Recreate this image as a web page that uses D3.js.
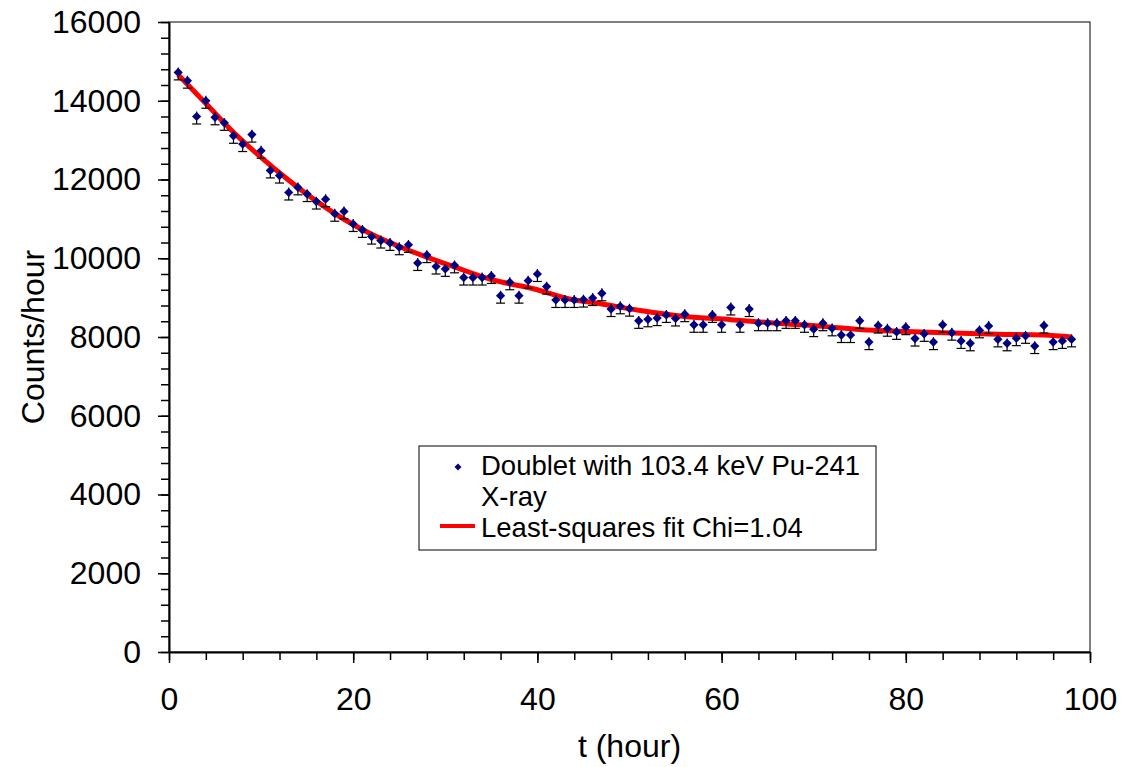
<!DOCTYPE html>
<html>
<head>
<meta charset="utf-8">
<script src="https://cdn.jsdelivr.net/npm/d3@7"></script>
<style>
  body { margin: 0; background: #fff; }
  svg { font-family: "Liberation Sans", Arial, sans-serif; }
</style>
</head>
<body>
<div id="vis"></div>
<script>
// data
const HOURS = d3.range(1, 99);
const COUNTS = [
  14720, 14510, 13600, 14000, 13580, 13440, 13110, 12900, 13140, 12730,
  12230, 12100, 11670, 11800, 11630, 11440, 11500, 11130, 11190, 10870,
  10720, 10550, 10450, 10390, 10280, 10340, 9880, 10080, 9790, 9730,
  9820, 9510, 9510, 9510, 9550, 9050, 9390, 9050, 9430, 9600,
  9280, 8940, 8940, 8940, 8950, 8990, 9110, 8710, 8780, 8720,
  8410, 8450, 8480, 8560, 8470, 8580, 8310, 8310, 8560, 8310,
  8750, 8310, 8710, 8350, 8350, 8350, 8410, 8410, 8310, 8200,
  8350, 8220, 8050, 8050, 8410, 7870, 8290, 8210, 8130, 8250,
  7960, 8080, 7870, 8310, 8110, 7900, 7840, 8170, 8280, 7940,
  7840, 7970, 8030, 7770, 8290, 7870, 7900, 7940
];
const FIT_T = [1, 4, 7, 10, 13, 16, 19, 22, 25, 28, 31, 35, 40, 43, 47, 51, 56, 61, 66, 71, 75, 80, 85, 90, 95, 98];
const FIT_Y = [14660, 13930, 13200, 12560, 11980, 11450, 10990, 10610, 10300, 10030, 9780, 9460, 9200, 8990, 8840, 8680, 8520, 8440, 8350, 8270, 8190, 8140, 8100, 8070, 8050, 8000];
const ERR_DOWN = 190;
const ERR_UP = 125;

const X_TICKS = [0, 20, 40, 60, 80, 100];
const Y_TICKS = [0, 2000, 4000, 6000, 8000, 10000, 12000, 14000, 16000];
const LEGEND_ITEMS = ['Doublet with 103.4 keV Pu-241', 'X-ray', 'Least-squares fit Chi=1.04'];

// frame
const FRAME_WIDTH = 1124;
const FRAME_HEIGHT = 767;
const MARGINS = {left: 169, right: 34, top: 22, bottom: 115};
const VIS_WIDTH = FRAME_WIDTH - MARGINS.left - MARGINS.right;
const VIS_HEIGHT = FRAME_HEIGHT - MARGINS.top - MARGINS.bottom;
const FONT = '"Liberation Sans", Arial, sans-serif';

const FRAME = d3.select('#vis')
  .append('svg')
    .attr('width', FRAME_WIDTH)
    .attr('height', FRAME_HEIGHT);

const X_SCALE = d3.scaleLinear().domain([0, 100]).range([MARGINS.left, MARGINS.left + VIS_WIDTH]);
const Y_SCALE = d3.scaleLinear().domain([0, 16000]).range([MARGINS.top + VIS_HEIGHT, MARGINS.top]);

// plot border (top and right)
FRAME.append('rect')
  .attr('x', X_SCALE(0))
  .attr('y', Y_SCALE(16000))
  .attr('width', VIS_WIDTH)
  .attr('height', VIS_HEIGHT)
  .attr('fill', 'none')
  .attr('stroke', '#000')
  .attr('stroke-width', 1);

// x axis, minor ticks then major
FRAME.append('g')
  .attr('transform', 'translate(0,' + Y_SCALE(0) + ')')
  .call(d3.axisBottom(X_SCALE).tickValues(d3.range(0, 101, 4)).tickSize(8).tickFormat(''))
  .call(g => g.select('.domain').remove())
  .selectAll('line').attr('stroke-width', 1.5);

FRAME.append('g')
  .attr('transform', 'translate(0,' + Y_SCALE(0) + ')')
  .call(d3.axisBottom(X_SCALE).tickValues(X_TICKS).tickSize(11).tickSizeOuter(0).tickPadding(24))
  .call(g => g.select('.domain').attr('stroke-width', 2))
  .call(g => g.selectAll('line').attr('stroke-width', 1.5))
  .call(g => g.selectAll('text').attr('font-size', '32px').attr('fill', '#000').attr('font-family', FONT));

// y axis
FRAME.append('g')
  .attr('transform', 'translate(' + X_SCALE(0) + ',0)')
  .call(d3.axisLeft(Y_SCALE).tickValues(d3.range(0, 16001, 400)).tickSize(8).tickFormat(''))
  .call(g => g.select('.domain').remove())
  .selectAll('line').attr('stroke-width', 1.5);

FRAME.append('g')
  .attr('transform', 'translate(' + X_SCALE(0) + ',0)')
  .call(d3.axisLeft(Y_SCALE).tickValues(Y_TICKS).tickSize(11).tickSizeOuter(0).tickPadding(17).tickFormat(d3.format('d')))
  .call(g => g.select('.domain').attr('stroke-width', 2))
  .call(g => g.selectAll('line').attr('stroke-width', 1.5))
  .call(g => g.selectAll('text').attr('font-size', '32px').attr('fill', '#000').attr('font-family', FONT));

// axis titles
FRAME.append('text')
  .attr('x', (X_SCALE(0) + X_SCALE(100)) / 2)
  .attr('y', 757)
  .attr('text-anchor', 'middle')
  .attr('font-size', '32px')
  .text('t (hour)');

FRAME.append('text')
  .attr('transform', 'translate(44,' + (Y_SCALE(8000)) + ') rotate(-90)')
  .attr('text-anchor', 'middle')
  .attr('font-size', '32px')
  .text('Counts/hour');

// fit line
const fitData = FIT_T.map((t, i) => ({t: t, y: FIT_Y[i]}));
FRAME.append('path')
  .datum(fitData)
  .attr('fill', 'none')
  .attr('stroke', '#ff0000')
  .attr('stroke-width', 5)
  .attr('stroke-linejoin', 'round')
  .attr('d', d3.line()
    .x(d => X_SCALE(d.t))
    .y(d => Y_SCALE(d.y))
    .curve(d3.curveMonotoneX));

// points with error bars
const points = HOURS.map((t, i) => ({t: t, y: COUNTS[i]}));

const bars = FRAME.append('g').attr('stroke', '#000').attr('stroke-width', 1.2);
bars.selectAll('.err')
  .data(points)
  .enter()
  .append('line')
  .attr('x1', d => X_SCALE(d.t))
  .attr('x2', d => X_SCALE(d.t))
  .attr('y1', d => Y_SCALE(d.y + ERR_UP))
  .attr('y2', d => Y_SCALE(d.y - ERR_DOWN));
bars.selectAll('.cap')
  .data(points)
  .enter()
  .append('line')
  .attr('x1', d => X_SCALE(d.t) - 4.5)
  .attr('x2', d => X_SCALE(d.t) + 4.5)
  .attr('y1', d => Y_SCALE(d.y - ERR_DOWN))
  .attr('y2', d => Y_SCALE(d.y - ERR_DOWN));

function diamond(cx, cy, r) {
  return 'M' + cx + ',' + (cy - r) + 'L' + (cx + r) + ',' + cy + 'L' + cx + ',' + (cy + r) + 'L' + (cx - r) + ',' + cy + 'Z';
}

FRAME.selectAll('.point')
  .data(points)
  .enter()
  .append('path')
  .attr('d', d => diamond(X_SCALE(d.t), Y_SCALE(d.y), 4.6))
  .attr('fill', '#000080');

// legend
const LEGEND = FRAME.append('g');
LEGEND.append('rect')
  .attr('x', 419).attr('y', 446)
  .attr('width', 457).attr('height', 104)
  .attr('fill', '#fff')
  .attr('stroke', '#000')
  .attr('stroke-width', 1);
LEGEND.append('path')
  .attr('d', diamond(458, 467, 3.5))
  .attr('fill', '#000080');
LEGEND.append('line')
  .attr('x1', 440).attr('x2', 475)
  .attr('y1', 526).attr('y2', 526)
  .attr('stroke', '#ff0000')
  .attr('stroke-width', 4);
LEGEND.selectAll('.ltext')
  .data(LEGEND_ITEMS)
  .enter()
  .append('text')
  .attr('x', 481)
  .attr('y', (d, i) => 475 + i * 31)
  .attr('font-size', '27.5px')
  .text(d => d);
</script>
</body>
</html>
